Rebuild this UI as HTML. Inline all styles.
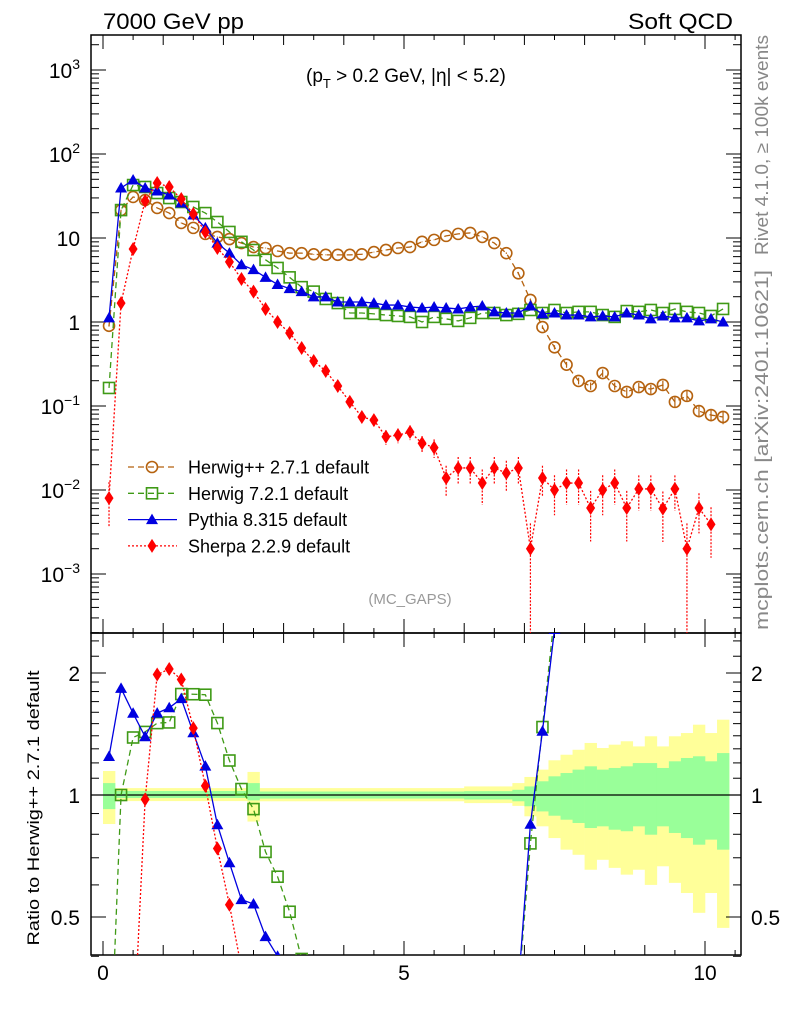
<!DOCTYPE html>
<html><head><meta charset="utf-8">
<style>
html,body{margin:0;padding:0;background:#fff;overflow:hidden;width:786px;height:1024px;}
svg{display:block;font-family:"Liberation Sans",Arial,sans-serif;}
</style></head>
<body>
<svg id="chart" width="786" height="1024" viewBox="0 0 786 1024" xmlns="http://www.w3.org/2000/svg">
<defs>
<clipPath id="clipMain"><rect x="91" y="35" width="650" height="598"/></clipPath>
<clipPath id="clipRatio"><rect x="91" y="633" width="650" height="322"/></clipPath>
</defs>
<text x="103" y="29" font-size="22" textLength="141" lengthAdjust="spacingAndGlyphs">7000 GeV pp</text>
<text x="628" y="29" font-size="22" textLength="105" lengthAdjust="spacingAndGlyphs">Soft QCD</text>
<text x="306" y="82" font-size="19">(p<tspan font-size="13" dy="6">T</tspan><tspan dy="-6"> &gt; 0.2 GeV, |η| &lt; 5.2)</tspan></text>
<text x="410" y="604" font-size="15" fill="#999" text-anchor="middle">(MC_GAPS)</text>
<text transform="translate(768,255) rotate(-90)" font-size="18" fill="#888" textLength="220" lengthAdjust="spacingAndGlyphs">Rivet 4.1.0, ≥ 100k events</text>
<text transform="translate(768,630) rotate(-90)" font-size="18" fill="#888" textLength="360" lengthAdjust="spacingAndGlyphs">mcplots.cern.ch [arXiv:2401.10621]</text>
<text transform="translate(39,808) rotate(-90)" font-size="17" text-anchor="middle" textLength="275" lengthAdjust="spacingAndGlyphs">Ratio to Herwig++ 2.7.1 default</text>
<g id="bands" clip-path="url(#clipRatio)"></g>
<g id="axes"></g>
<g id="mainMarks" clip-path="url(#clipMain)"></g>
<g id="ratioMarks" clip-path="url(#clipRatio)"></g>
<g id="legend"></g>
</svg>
<script>
const xCenters = [];
for (let i = 0; i < 52; i++) xCenters.push(+(0.1 + 0.2 * i).toFixed(1));
const herwigpp = [0.90,21.5,30.8,28.3,22.8,19.8,15.1,13.2,11.2,10.3,9.7,8.7,7.8,7.6,7.0,6.6,6.6,6.4,6.3,6.3,6.3,6.4,6.8,7.2,7.6,
 7.8,9.0,9.5,10.6,11.2,11.5,10.3,8.7,6.6,3.8,1.83,0.87,0.50,0.31,0.199,0.173,0.247,0.173,0.147,0.168,0.159,0.178,0.112,0.132,0.087,0.078,0.074];
const herwigppErr = [0.02,0.01,0.01,0.01,0.01,0.01,0.01,0.01,0.01,0.01,0.01,0.01,0.01,0.01,0.01,0.01,0.01,0.01,0.01,0.01,0.01,0.01,0.01,0.01,0.01,
 0.01,0.01,0.01,0.01,0.01,0.01,0.01,0.01,0.02,0.03,0.04,0.05,0.06,0.08,0.09,0.1,0.1,0.1,0.12,0.12,0.12,0.12,0.15,0.15,0.16,0.16,0.18];
const herwig7 = [0.164,21.5,42.7,40.5,34.3,29.9,26.8,23.4,19.8,15.5,11.8,9.0,7.2,5.5,4.4,3.4,2.6,2.3,1.88,1.68,1.28,1.28,1.25,1.21,1.18,
 1.15,1.00,1.15,1.09,1.03,1.12,1.28,1.28,1.21,1.25,1.39,1.28,1.39,1.28,1.32,1.32,1.21,1.15,1.35,1.32,1.39,1.28,1.43,1.32,1.28,1.18,1.43];
const pythia = [1.12,39.4,49.0,39.4,36.3,32.5,26.1,18.8,13.2,8.7,6.6,4.8,4.2,3.4,2.8,2.5,2.3,1.99,1.99,1.73,1.73,1.73,1.68,1.59,1.59,
 1.51,1.47,1.51,1.47,1.43,1.51,1.55,1.32,1.28,1.28,1.55,1.25,1.28,1.21,1.21,1.15,1.18,1.15,1.28,1.21,1.09,1.18,1.12,1.12,1.03,1.09,1.00];
const sherpa = [0.0080,1.68,7.4,27.6,45.2,40.5,29.1,19.3,11.8,7.6,5.2,3.25,2.3,1.43,1.00,0.74,0.49,0.343,0.261,0.173,
 0.112,0.074,0.068,0.043,0.045,0.049,0.036,0.032,0.0139,0.0183,0.0183,0.0121,0.0183,0.0159,0.0183,0.0020,0.0139,0.0100,0.0121,0.0121,
 0.0061,0.0100,0.0121,0.0061,0.0103,0.0103,0.0060,0.0103,0.0020,0.0061,0.0039];
const sherpaErr = [0.55,0.03,0.03,0.03,0.03,0.03,0.03,0.03,0.03,0.03,0.03,0.03,0.03,0.03,0.03,0.03,0.03,0.05,0.08,0.1,
 0.12,0.12,0.15,0.2,0.2,0.2,0.22,0.25,0.4,0.35,0.35,0.45,0.35,0.4,0.35,1.0,0.4,0.5,0.45,0.45,
 0.6,0.5,0.45,0.6,0.45,0.45,0.6,0.45,1.0,0.5,0.6];
const bandYellowHi = [1.146,1.04,1.04,1.04,1.04,1.04,1.04,1.04,1.04,1.04,1.04,1.04,1.14,1.04,1.04,1.04,1.04,1.04,1.04,1.04,1.04,1.04,1.04,1.04,1.04,1.04,1.04,1.04,1.04,1.04,
 1.05,1.05,1.05,1.05,1.07,1.108,1.155,1.218,1.257,1.293,1.344,1.306,1.331,1.357,1.318,1.396,1.318,1.396,1.422,1.491,1.422,1.534];
const bandYellowLo = [0.848,0.966,0.966,0.966,0.966,0.966,0.966,0.966,0.966,0.966,0.966,0.966,0.86,0.965,0.965,0.965,0.965,0.965,0.965,0.965,0.965,0.965,0.965,0.965,0.965,0.965,0.965,0.965,0.965,0.965,
 0.955,0.955,0.955,0.955,0.94,0.886,0.837,0.783,0.733,0.712,0.654,0.692,0.661,0.636,0.654,0.600,0.667,0.607,0.573,0.512,0.573,0.470];
const bandGreenHi = [1.07,1.023,1.023,1.023,1.023,1.023,1.023,1.023,1.023,1.023,1.023,1.023,1.07,1.02,1.02,1.02,1.02,1.02,1.02,1.02,1.02,1.02,1.02,1.02,1.02,1.02,1.02,1.02,1.02,1.02,
 1.022,1.022,1.022,1.022,1.03,1.05,1.081,1.112,1.133,1.155,1.177,1.155,1.166,1.177,1.199,1.199,1.166,1.211,1.234,1.246,1.211,1.269];
const bandGreenLo = [0.923,0.983,0.983,0.983,0.983,0.983,0.983,0.983,0.983,0.983,0.983,0.983,0.97,0.98,0.98,0.98,0.98,0.98,0.98,0.98,0.98,0.98,0.98,0.98,0.98,0.98,0.98,0.98,0.98,0.98,
 0.975,0.975,0.975,0.975,0.965,0.938,0.911,0.889,0.869,0.853,0.829,0.837,0.821,0.814,0.837,0.798,0.837,0.806,0.783,0.754,0.776,0.733];
const xTickLabels = ["0","5","10"];
const xTickValues = [0,5,10];
const yMainExps = [-3,-2,-1,0,1,2,3];
const yMainBase = ["10","10","10","1","10","10","10"];
const yMainSup = ["\u22123","\u22122","\u22121","","","2","3"];
const ratioTickValues = [0.5,1,2];
const ratioTickLabels = ["0.5","1","2"];

const NS = "http://www.w3.org/2000/svg";
const L = 91, R = 741, T = 35, MB = 633, RB = 955;
const X = x => 103 + 60.2 * x;
const Y = v => 322 - 84 * Math.log10(v);
const RY = r => 795 - 122 * Math.log2(r);
function mk(tag, attrs, parent) {
  const e = document.createElementNS(NS, tag);
  for (const k in attrs) e.setAttribute(k, attrs[k]);
  parent.appendChild(e);
  return e;
}
const axes = document.getElementById('axes');
const bands = document.getElementById('bands');
const mainG = document.getElementById('mainMarks');
const ratioG = document.getElementById('ratioMarks');
const legG = document.getElementById('legend');

for (let i = 0; i < 52; i++) {
  const x0 = X(xCenters[i] - 0.1), w = 60.2 * 0.2 + 0.3;
  const y1 = mk('rect', {x: x0, y: RY(bandYellowHi[i]), width: w, height: RY(bandYellowLo[i]) - RY(bandYellowHi[i]), fill: '#ffff99'}, bands);
  
  
}
for (let i = 0; i < 52; i++) {
  const x0 = X(xCenters[i] - 0.1), w = 60.2 * 0.2 + 0.3;
  const g1 = mk('rect', {x: x0, y: RY(bandGreenHi[i]), width: w, height: RY(bandGreenLo[i]) - RY(bandGreenHi[i]), fill: '#99ff99'}, bands);
  
  
}

const f1 = mk('rect', {x: L, y: T, width: R - L, height: MB - T, fill: 'none', stroke: '#000', 'stroke-width': 1.5}, axes);


const f2 = mk('rect', {x: L, y: MB, width: R - L, height: RB - MB, fill: 'none', stroke: '#000', 'stroke-width': 1.5}, axes);


const one = mk('line', {x1: L, x2: R, y1: RY(1), y2: RY(1), stroke: '#000', 'stroke-width': 1.2}, axes);



for (let k = 0; k <= 21; k++) {
  const v = k * 0.5;
  const px = X(v);
  if (px < L || px > R) continue;
  const len = (v % 5 === 0) ? 14 : (v % 1 === 0 ? 10 : 5);
  [[T, 1], [MB, -1], [MB, 1], [RB, -1]].forEach(([y0, d]) => {
    mk('line', {x1: px, x2: px, y1: y0, y2: y0 + d * len, stroke: '#000', 'stroke-width': 1}, axes);
  });
}
xTickValues.forEach((v, i) => {
  const t = mk('text', {x: X(v), y: 980, 'font-size': 21, 'text-anchor': 'middle'}, axes);
  t.textContent = xTickLabels[i];
  
  
});
for (let e = -4; e <= 3; e++) {
  for (let m = 1; m <= 9; m++) {
    const py = Y(m * Math.pow(10, e));
    if (py < T || py > MB) continue;
    const len = m === 1 ? 15 : 8;
    mk('line', {x1: L, x2: L + len, y1: py, y2: py, stroke: '#000', 'stroke-width': 1}, axes);
    mk('line', {x1: R, x2: R - len, y1: py, y2: py, stroke: '#000', 'stroke-width': 1}, axes);
  }
}
yMainExps.forEach((e, i) => {
  const py = Y(Math.pow(10, e));
  const t = mk('text', {x: 80, y: py + 8, 'font-size': 21, 'text-anchor': 'end'}, axes);
  
  
  if (yMainSup[i]) {
    const b = mk('tspan', {}, t); b.textContent = yMainBase[i];
    const s = mk('tspan', {'font-size': 14, dy: -9}, t); s.textContent = yMainSup[i];
  } else {
    t.textContent = yMainBase[i];
    t.setAttribute('x', 80);
  }
});
[0.4,0.5,0.6,0.7,0.8,0.9,1,1.1,1.2,1.3,1.4,1.5,1.6,1.7,1.8,1.9,2,2.2,2.4].forEach(v => {
  const py = RY(v);
  const len = ratioTickValues.includes(v) ? 15 : 8;
  mk('line', {x1: L, x2: L + len, y1: py, y2: py, stroke: '#000', 'stroke-width': 1}, axes);
  mk('line', {x1: R, x2: R - len, y1: py, y2: py, stroke: '#000', 'stroke-width': 1}, axes);
});
ratioTickValues.forEach((v, i) => {
  const t = mk('text', {x: 80, y: RY(v) + 8, 'font-size': 21, 'text-anchor': 'end'}, axes);
  t.textContent = ratioTickLabels[i];
  
  
  const t2 = mk('text', {x: 751, y: RY(v) + 8, 'font-size': 21}, axes);
  t2.textContent = ratioTickLabels[i];
  
  
});

function marker(g, type, x, y, color) {
  let m;
  if (type === 'circle') m = mk('circle', {cx: x, cy: y, r: 5.5, fill: 'none', stroke: color, 'stroke-width': 1.6}, g);
  else if (type === 'square') m = mk('rect', {x: x - 5.5, y: y - 5.5, width: 11, height: 11, fill: 'none', stroke: color, 'stroke-width': 1.6}, g);
  else if (type === 'tri') m = mk('polygon', {points: `${x},${y-6} ${x-6},${y+4.5} ${x+6},${y+4.5}`, fill: color}, g);
  else m = mk('polygon', {points: `${x},${y-7} ${x-4.5},${y} ${x},${y+7} ${x+4.5},${y}`, fill: color}, g);
  return m;
}
const series = [
  {name: 'herwigpp', vals: herwigpp, err: herwigppErr, color: '#b5620f', dash: '6,4', type: 'circle', label: 'Herwig++ 2.7.1 default'},
  {name: 'herwig7', vals: herwig7, err: null, color: '#3f9a16', dash: '6,4', type: 'square', label: 'Herwig 7.2.1 default'},
  {name: 'pythia', vals: pythia, err: null, color: '#0000e0', dash: '', type: 'tri', label: 'Pythia 8.315 default'},
  {name: 'sherpa', vals: sherpa, err: sherpaErr, color: '#ff0000', dash: '2,2', type: 'dia', label: 'Sherpa 2.2.9 default'}
];
series.forEach(s => {
  const pts = s.vals.map((v, i) => `${X(xCenters[i])},${Y(v)}`).join(' ');
  const pl = mk('polyline', {points: pts, fill: 'none', stroke: s.color, 'stroke-width': 1.3, 'stroke-dasharray': s.dash}, mainG);
  
  
  s.vals.forEach((v, i) => {
    const px = X(xCenters[i]);
    if (s.err) {
      const e = s.err[i] * v;
      const lo = v - e > 0 ? Y(v - e) : MB + 5;
      const eb = mk('line', {x1: px, x2: px, y1: Y(v + e), y2: lo, stroke: s.color, 'stroke-width': 1.2, 'stroke-dasharray': s.name === 'sherpa' ? '2,1.5' : ''}, mainG);
      
      
    }
    const m = marker(mainG, s.type, px, Y(v), s.color);
    
    
  });
  if (s.name !== 'herwigpp') {
    const rpts = s.vals.map((v, i) => `${X(xCenters[i])},${RY(Math.max(v / herwigpp[i], 1e-4))}`).join(' ');
    const rl = mk('polyline', {points: rpts, fill: 'none', stroke: s.color, 'stroke-width': 1.3, 'stroke-dasharray': s.dash}, ratioG);
    
    
    s.vals.forEach((v, i) => {
      const r = v / herwigpp[i];
      const py = RY(r);
      if (py < MB - 8 || py > RB + 8) return;
      const m = marker(ratioG, s.type, X(xCenters[i]), py, s.color);
      
      
    });
  }
});
series.forEach((s, k) => {
  const y = 467 + k * 26.3;
  const g = mk('g', {}, legG);
  
  
  mk('line', {x1: 128, x2: 177, y1: y, y2: y, stroke: s.color, 'stroke-width': 1.3, 'stroke-dasharray': s.dash}, g);
  marker(g, s.type, 152, y, s.color);
  const t = mk('text', {x: 188, y: y + 6.5, 'font-size': 18}, g);
  t.textContent = s.label;
});
</script>
</body></html>
